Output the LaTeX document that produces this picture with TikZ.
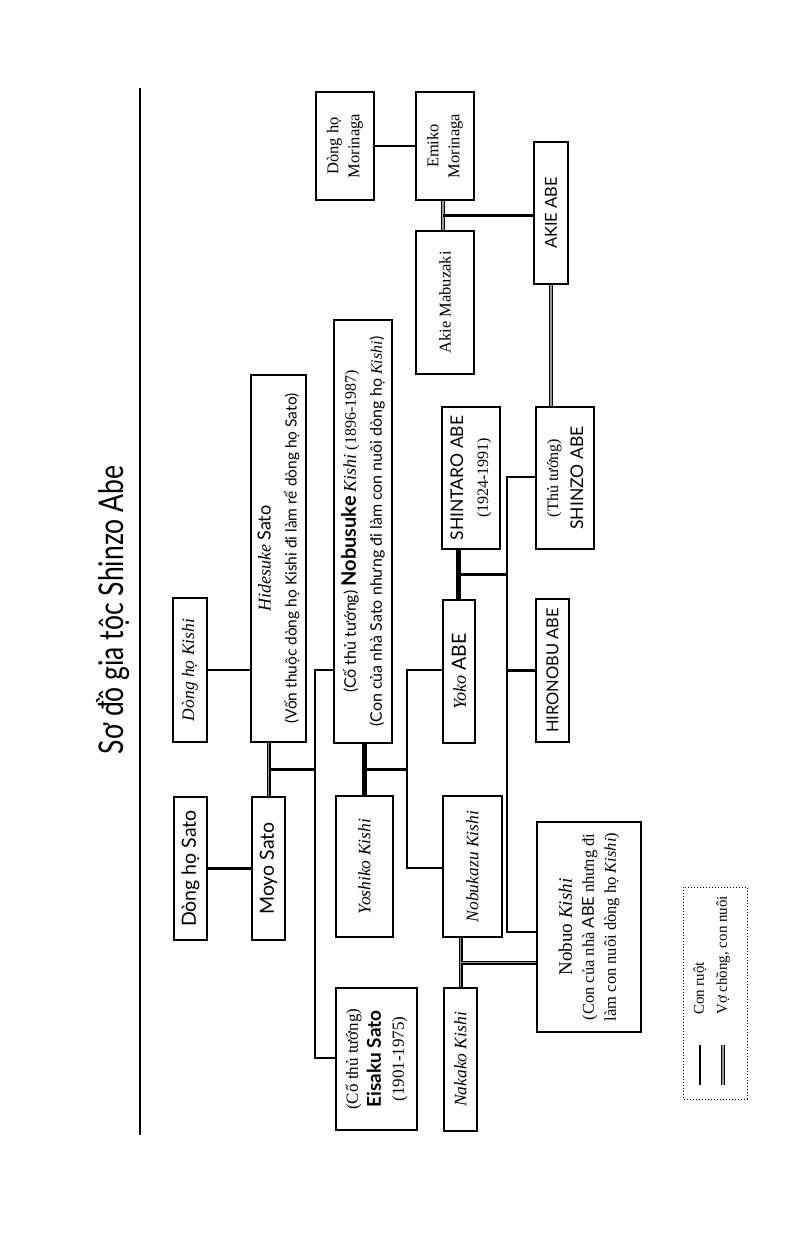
\documentclass[tikz,border=0pt]{standalone}
\usepackage{fontspec}
\setmainfont{Liberation Serif}
\newfontfamily\sansf{Lato}
\newfontfamily\titlef[FakeStretch=0.78]{Lato}
\usetikzlibrary{calc}
\newcommand\sk[1]{{\rmfamily\itshape #1}}
\begin{document}
\begin{tikzpicture}[x=1pt,y=-1pt,
  box/.style={draw, line width=1.3pt, rotate=90, inner sep=1pt, align=center,
              font=\fontsize{15}{19}\selectfont},
  sz/.style 2 args={minimum height=#1pt, minimum width=#2pt},
  sf/.style={font=\sansf\fontsize{19.5}{22}\selectfont},
  sfc/.style={font=\sansf\fontsize{16.5}{20}\selectfont},
  child/.style={line width=2.8pt},
  heavy/.style={line width=5pt},
  wed/.style={draw=black, line width=1.1pt, double=black!40, double distance=1.8pt}]
\useasboundingbox (0,0) rectangle (800,1260);

% title and rule
\node[rotate=90, font=\titlef\fontsize{34}{38}\selectfont] (title) at (113,610) {Sơ đồ gia tộc Shinzo Abe};
\coordinate (r1) at (140,88);
\coordinate (r2) at (140,1135);
\draw[line width=1.4pt] (r1) -- (r2);

% nodes
\node[box, sz={33}{143}, sf] (dsato) at (190.5,868.5) {Dòng họ Sato};
\node[box, sz={33}{143}, sf] (moyo) at (268.5,868.5) {Moyo Sato};
\node[box, sz={34}{144}, font=\fontsize{17.5}{20}\selectfont] (dkishi) at (190,670) {\sk{Dòng họ Kishi}};
\node[box, sz={55}{367}, font=\sansf\fontsize{15.5}{26}\selectfont] (hide) at (278.5,558.5)
  {{\rmfamily\itshape\fontsize{18}{20}\selectfont Hidesuke} {\fontsize{18}{20}\selectfont Sato}\\(Vốn thuộc dòng họ Kishi đi làm rể dòng họ Sato)};
\node[box, sz={58}{423}, font=\sansf\fontsize{16}{26}\selectfont] (nobu) at (363,531.5)
  {(Cố thủ tướng) {\bfseries\fontsize{20}{22}\selectfont Nobusuke} {\rmfamily\itshape\fontsize{18}{20}\selectfont Kishi} {\rmfamily\fontsize{16}{20}\selectfont(1896-1987)}\\(Con của nhà Sato nhưng đi làm con nuôi dòng họ \sk{Kishi})};
\node[box, sz={57}{141}, font=\fontsize{17.5}{20}\selectfont] (yoshiko) at (364.5,866.5) {\sk{Yoshiko Kishi}};
\node[box, sz={81}{142}, font=\fontsize{17}{23}\selectfont] (eisaku) at (376.5,1059)
  {(Cố thủ tướng)\\{\sansf\bfseries\fontsize{19}{22}\selectfont Eisaku Sato}\\(1901-1975)};
\node[box, sz={59}{141}, font=\fontsize{17.5}{20}\selectfont] (nobukazu) at (472.5,866.5) {\sk{Nobukazu Kishi}};
\node[box, sz={33}{143}, font=\fontsize{17.5}{20}\selectfont] (nakako) at (460.5,1059.5) {\sk{Nakako Kishi}};
\node[box, sz={32}{143}, sf] (yoko) at (459,671.5) {{\rmfamily\itshape\fontsize{18}{20}\selectfont Yoko} ABE};
\node[box, sz={58}{142}, font=\fontsize{16}{25}\selectfont] (shintaro) at (471,478)
  {{\sansf\fontsize{17.5}{20}\selectfont SHINTARO ABE}\\(1924-1991)};
\node[box, sz={33}{143}, sfc] (hironobu) at (552.5,670.5) {HIRONOBU ABE};
\node[box, sz={58}{142}, font=\fontsize{16}{25}\selectfont] (shinzo) at (565,478)
  {(Thủ tướng)\\{\sansf\fontsize{17.5}{20}\selectfont SHINZO ABE}};
\node[box, sz={34}{142}, sfc] (akie) at (551,213) {AKIE ABE};
\node[box, sz={58}{143}, font=\fontsize{16.5}{20}\selectfont] (mabuzaki) at (445,302.5) {Akie Mabuzaki};
\node[box, sz={58}{108}, font=\fontsize{16.5}{21}\selectfont] (emiko) at (445,146) {Emiko\\Morinaga};
\node[box, sz={58}{108}, font=\fontsize{16.5}{21}\selectfont] (dmori) at (345,146) {Dòng họ\\Morinaga};
\node[box, sz={104}{210}, font=\fontsize{16.5}{22}\selectfont] (nobuo) at (589,927)
  {{\fontsize{19}{22}\selectfont Nobuo \sk{Kishi}}\\(Con của nhà {\sansf ABE} nhưng đi\\làm con nuôi dòng họ \sk{Kishi})};

% legend
\node[draw, dotted, line width=1pt, rotate=90, sz={64}{212}] (legend) at (715,993) {};
\coordinate (l1a) at (700,1085);
\coordinate (l1b) at (700,1045);
\coordinate (l2a) at (723,1085);
\coordinate (l2b) at (723,1045);
\draw[child] (l1a) -- (l1b);
\draw[wed] (l2a) -- (l2b);
\node[rotate=90, anchor=west, inner sep=0pt, font=\fontsize{15}{18}\selectfont] (lt1) at ($(l1b)+(0,-30)$) {Con ruột};
\node[rotate=90, anchor=west, inner sep=0pt, font=\fontsize{15}{18}\selectfont] (lt2) at ($(l2b)+(0,-30)$) {Vợ chồng, con nuôi};

% ---- connectors ----
% Sato generation
\draw[child] (dsato.south) -- (moyo.north);
\draw[child] (dkishi.south) -- (dkishi.south -| hide.north);
\draw[wed] (moyo.east |- hide.west) -- (moyo.east);
\coordinate (m1) at ($(moyo.east |- hide.west)!0.5!(moyo.east)$);
\coordinate (t1a) at (315,670);
\coordinate (t1b) at (315,1058);
\draw[child] (m1) -- (m1 -| t1a);
\draw[child] (nobu.north |- t1a) -- (t1a) -- (t1b) -- (eisaku.north |- t1b);

% Kishi generation
\draw[heavy] (yoshiko.east |- nobu.west) -- (yoshiko.east);
\coordinate (m2) at ($(yoshiko.east |- nobu.west)!0.5!(yoshiko.east)$);
\coordinate (t2a) at (407,670);
\coordinate (t2b) at (407,868);
\draw[child] (m2) -- (m2 -| t2a);
\draw[child] (yoko.north |- t2a) -- (t2a) -- (t2b) -- (nobukazu.north |- t2b);

% Abe generation
\coordinate (y1) at (458,600);
\draw[heavy] (yoko.east -| y1) -- (shintaro.west -| y1);
\coordinate (m3) at ($(yoko.east -| y1)!0.5!(shintaro.west -| y1)$);
\coordinate (t3a) at (507,477);
\coordinate (t3b) at (507,932);
\draw[child] (m3) -- (m3 -| t3a);
\draw[child] (shinzo.north |- t3a) -- (t3a) -- (t3b) -- (nobuo.north |- t3b);
\draw[child] (t3a |- hironobu.north) -- (hironobu.north);

% Nobukazu - Nakako
\draw[wed] (nakako.east |- nobukazu.west) -- (nakako.east);
\coordinate (m4) at ($(nakako.east |- nobukazu.west)!0.5!(nakako.east)$);
\draw[wed] (m4) -- (m4 -| nobuo.north);

% Shinzo - Akie
\draw[wed] (akie.west) -- (akie.west |- shinzo.east);

% Morinaga
\draw[child] (dmori.south) -- (emiko.north);
\coordinate (x5) at (443,200);
\draw[wed] (emiko.west -| x5) -- (mabuzaki.east -| x5);
\coordinate (m5) at ($(emiko.west -| x5)!0.5!(mabuzaki.east -| x5)$);
\draw[child] (m5) -- (m5 -| akie.north);
\end{tikzpicture}
\end{document}
